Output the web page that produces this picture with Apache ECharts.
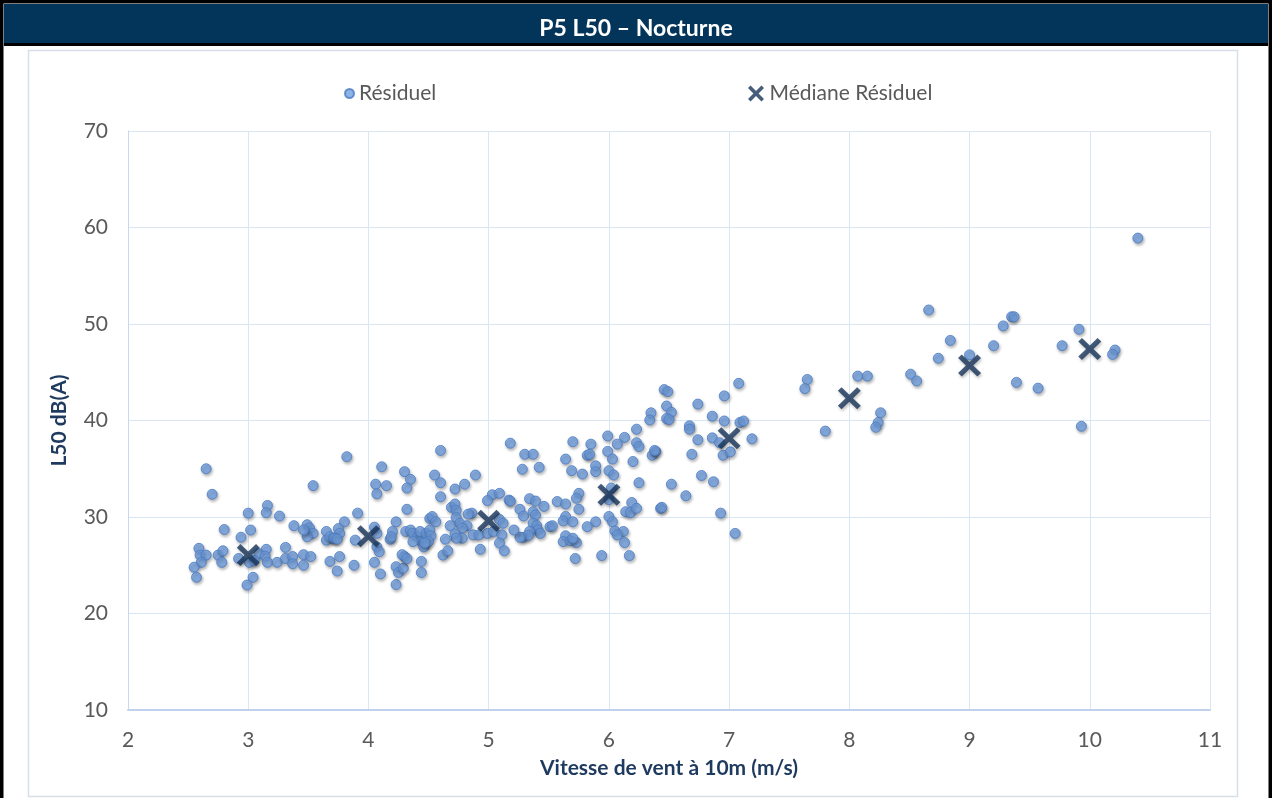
<!DOCTYPE html>
<html>
<head>
<meta charset="utf-8">
<title>P5 L50 – Nocturne</title>
<script src="https://cdn.jsdelivr.net/npm/echarts@6/dist/echarts.min.js"></script>
<style>
  html, body { margin: 0; padding: 0; background: #ffffff; }
  #chart { width: 1272px; height: 798px; }
</style>
</head>
<body>
<div id="chart"></div>
<script>
// Wind speed at 10 m (m/s) for each residual measurement
const residualSpeed = [
  2.65, 2.70, 3.00, 3.16, 3.15, 3.26, 2.80, 3.02, 2.94, 3.38,
  2.59, 2.60, 2.65, 2.75, 2.79, 2.61, 2.78, 2.55, 2.57, 2.92,
  3.01, 3.09, 3.15, 3.14, 3.16, 3.24, 3.31, 3.31, 3.37, 3.37,
  3.04, 2.99, 3.05,
  3.82, 3.54, 4.11, 4.06, 4.07, 4.15, 4.30, 4.35, 4.32, 4.32,
  3.91, 3.80, 4.23, 4.51, 3.49, 3.51, 3.54, 3.49, 3.46, 3.65,
  3.65, 3.68, 3.71, 3.75, 3.76, 3.72, 3.74, 3.89, 4.05, 4.07,
  4.07, 4.09, 4.05, 4.10, 4.23, 4.23, 4.25, 4.29, 4.30, 4.28,
  4.32, 4.18, 4.20, 4.19, 4.31, 4.35, 4.37, 4.41, 4.43, 4.44,
  4.37, 4.47, 4.46, 4.48, 4.44, 4.44, 3.46, 3.52, 3.46, 3.68,
  3.76, 3.74, 3.88,
  4.60, 4.55, 4.60, 4.72, 4.80, 4.89, 4.60, 5.18, 5.30, 5.37,
  5.28, 5.42, 5.03, 5.09, 4.99, 5.17, 5.18, 5.34, 5.39, 5.46,
  5.26, 5.29, 5.37, 5.39, 5.51, 5.37, 5.40, 5.41, 5.43, 5.34,
  5.29, 5.33, 4.69, 4.72, 4.73, 4.86, 4.83, 4.53, 4.56, 4.73,
  4.76, 4.68, 4.82, 4.78, 4.72, 4.78, 4.73, 4.87, 4.92, 4.99,
  5.04, 5.09, 5.12, 5.11, 5.09, 5.13, 4.93, 4.64, 4.62, 4.66,
  4.51, 4.52, 4.50, 4.47, 5.26, 5.21,
  6.35, 6.34, 6.23, 5.99, 6.13, 6.07, 6.23, 6.25, 5.70, 5.85,
  5.82, 5.84, 5.64, 5.99, 6.03, 6.36, 6.39, 6.20, 5.89, 5.89,
  5.69, 5.78, 6.00, 6.04, 6.25, 6.02, 5.75, 5.73, 5.57, 5.64,
  5.75, 6.19, 6.14, 6.18, 6.23, 6.00, 6.03, 5.64, 5.62, 5.70,
  5.89, 5.82, 5.53, 6.05, 6.12, 6.07, 6.13, 5.64, 5.62, 5.68,
  5.73, 5.70, 5.72, 5.94, 6.17, 6.43, 6.00,
  7.08, 6.46, 6.49, 6.96, 6.48, 6.74, 6.52, 6.48, 6.50, 6.86,
  6.96, 7.09, 7.12, 6.67, 6.67, 6.74, 6.86, 6.92, 7.19, 6.95,
  7.01, 6.69, 6.38, 6.77, 6.87, 6.52, 6.64, 6.44, 6.93, 7.05,
  7.65, 7.63, 8.07, 8.15, 8.51, 8.56, 8.26, 8.24, 8.22, 7.80,
  10.40, 8.66, 9.35, 9.37, 9.28, 9.91, 8.84, 9.20, 9.77, 10.21,
  10.19, 8.74, 9.00, 9.39, 9.57, 9.93
];

// Residual L50 level in dB(A), same order as residualSpeed
const residualLevel = [
  35.0, 32.35, 30.4, 31.2, 30.45, 30.1, 28.7, 28.65, 27.9, 29.1,
  26.75, 26.05, 26.05, 26.05, 26.5, 25.3, 25.3, 24.8, 23.75, 25.7,
  25.3, 26.2, 26.65, 25.95, 25.3, 25.3, 26.85, 25.7, 25.9, 25.15,
  23.75, 22.95, 25.5,
  36.25, 33.25, 35.2, 33.4, 32.4, 33.25, 34.7, 33.9, 33.0, 30.8,
  30.4, 29.5, 29.5, 29.85, 29.2, 28.85, 28.3, 27.95, 28.65, 28.5,
  27.6, 27.95, 27.8, 28.8, 28.3, 27.8, 27.7, 27.6, 28.95, 28.3,
  26.9, 26.4, 25.3, 24.1, 23.0, 24.85, 24.25, 24.7, 25.9, 26.1,
  25.7, 27.7, 28.5, 27.95, 28.5, 28.65, 28.3, 27.95, 28.5, 27.45,
  27.45, 27.6, 26.9, 28.3, 25.4, 24.25, 26.1, 25.9, 25.0, 25.4,
  25.9, 24.4, 25.0,
  36.9, 34.35, 33.55, 32.9, 33.4, 34.35, 32.1, 37.65, 36.5, 36.5,
  34.95, 35.15, 32.3, 32.45, 31.7, 31.75, 31.65, 31.9, 31.65, 31.1,
  30.8, 30.1, 30.55, 30.2, 29.0, 29.35, 29.1, 28.65, 28.3, 28.5,
  27.9, 28.1, 31.0, 31.35, 30.7, 30.4, 30.3, 30.05, 29.5, 29.95,
  29.35, 29.1, 29.1, 28.85, 28.25, 27.8, 27.8, 28.15, 28.15, 28.3,
  28.5, 29.75, 29.35, 28.15, 27.3, 26.5, 26.65, 27.7, 26.05, 26.5,
  28.65, 28.05, 27.45, 27.3, 27.9, 28.65,
  40.8, 40.05, 39.1, 38.4, 38.25, 37.55, 37.7, 37.3, 37.8, 37.55,
  36.4, 36.5, 36.0, 36.8, 36.0, 36.4, 36.8, 35.75, 35.3, 34.7,
  34.8, 34.45, 34.8, 34.35, 33.55, 33.0, 32.45, 31.95, 31.6, 31.35,
  30.8, 31.5, 30.55, 30.45, 30.9, 30.05, 29.5, 30.05, 29.6, 29.5,
  29.5, 29.0, 29.1, 28.55, 28.5, 28.15, 27.35, 28.05, 27.45, 27.55,
  27.35, 27.8, 25.7, 26.0, 26.0, 30.9, 31.8,
  43.85, 43.2, 43.0, 42.55, 41.5, 41.7, 40.85, 40.2, 40.1, 40.45,
  39.95, 39.8, 39.95, 39.45, 39.1, 38.0, 38.2, 37.7, 38.1, 36.4,
  36.75, 36.5, 36.9, 34.3, 33.65, 33.4, 32.2, 31.0, 30.4, 28.3,
  44.25, 43.3, 44.6, 44.6, 44.8, 44.1, 40.8, 39.8, 39.3, 38.9,
  58.9, 51.45, 50.75, 50.75, 49.8, 49.45, 48.3, 47.75, 47.75, 47.3,
  46.85, 46.45, 46.8, 43.95, 43.35, 39.4
];

// Median residual level per wind-speed class
const medianSpeed = [3, 4, 5, 6, 7, 8, 9, 10];
const medianLevel = [26.05, 28.0, 29.6, 32.3, 38.15, 42.3, 45.7, 47.4];

// Axis ranges and tick labels
const xTicks = [2, 3, 4, 5, 6, 7, 8, 9, 10, 11];
const yTicks = [10, 20, 30, 40, 50, 60, 70];

const chartTitle = 'P5 L50 – Nocturne';
const residualName = 'Résiduel';
const medianName = 'Médiane Résiduel';
const xAxisName = 'Vitesse de vent à 10m (m/s)';
const yAxisName = 'L50 dB(A)';

const FONT = 'Lato, "Open Sans", sans-serif';
// thick diagonal cross used for the median markers
const crossPath = 'path://M0,1.6 L1.6,0 L5,3.4 L8.4,0 L10,1.6 L6.6,5 L10,8.4 L8.4,10 L5,6.6 L1.6,10 L0,8.4 L3.4,5 Z';

const residualData = residualSpeed.map((s, i) => [s, residualLevel[i]]);
const medianData = medianSpeed.map((s, i) => [s, medianLevel[i]]);

const chart = echarts.init(document.getElementById('chart'), null, { renderer: 'canvas' });

chart.setOption({
  animation: false,
  backgroundColor: '#ffffff',
  graphic: [
    // outer frame
    { type: 'rect', shape: { x: 1.5, y: 1.5, width: 1269, height: 800 },
      style: { fill: null, stroke: '#000000', lineWidth: 4 }, z: 0 },
    // header band
    { type: 'rect', shape: { x: 4, y: 4, width: 1264, height: 40 },
      style: { fill: '#03345a' }, z: 0 },
    { type: 'rect', shape: { x: 4, y: 43, width: 1264, height: 3 },
      style: { fill: '#000000' }, z: 0 },
    // chart panel border
    { type: 'rect', shape: { x: 28.5, y: 50.5, width: 1209, height: 746 },
      style: { fill: null, stroke: '#d9dfe8', lineWidth: 1.5 }, z: 0 }
  ],
  title: {
    text: chartTitle,
    left: 'center',
    top: 12,
    textStyle: { color: '#ffffff', fontFamily: FONT, fontWeight: 'bold', fontSize: 23 }
  },
  legend: [
    {
      data: [residualName],
      left: 339, top: 78,
      itemWidth: 9, itemHeight: 9,
      textStyle: { color: '#595959', fontFamily: FONT, fontSize: 21 }
    },
    {
      data: [medianName],
      left: 743, top: 78,
      itemWidth: 17, itemHeight: 16,
      itemGap: 4,
      textStyle: { color: '#595959', fontFamily: FONT, fontSize: 21 }
    }
  ],
  grid: { left: 128, right: 62, top: 131, bottom: 88, containLabel: false },
  xAxis: {
    type: 'value',
    min: xTicks[0], max: xTicks[xTicks.length - 1], interval: 1,
    name: xAxisName,
    nameLocation: 'middle',
    nameGap: 48,
    nameTextStyle: { color: '#1f3a5f', fontFamily: FONT, fontWeight: 'bold', fontSize: 21 },
    axisLine: { lineStyle: { color: '#bfd1ec', width: 2 } },
    axisTick: { show: false },
    axisLabel: { color: '#595959', fontFamily: FONT, fontSize: 21, margin: 20 },
    splitLine: { show: true, lineStyle: { color: '#dbe6f5', width: 1 } }
  },
  yAxis: {
    type: 'value',
    min: yTicks[0], max: yTicks[yTicks.length - 1], interval: 10,
    name: yAxisName,
    nameLocation: 'middle',
    nameRotate: 90,
    nameGap: 58,
    nameTextStyle: { color: '#1f3a5f', fontFamily: FONT, fontWeight: 'bold', fontSize: 21 },
    axisLine: { show: true, lineStyle: { color: '#c7d7ef', width: 1 } },
    axisTick: { show: false },
    axisLabel: { color: '#595959', fontFamily: FONT, fontSize: 21, margin: 20 },
    splitLine: { show: true, lineStyle: { color: '#dbe6f5', width: 1 } }
  },
  series: [
    {
      name: residualName,
      type: 'scatter',
      data: residualData,
      symbol: 'circle',
      symbolSize: 10,
      itemStyle: {
        color: '#72a0e0',
        borderColor: '#4a7cc4',
        borderWidth: 1,
        shadowBlur: 3,
        shadowColor: 'rgba(0,0,0,0.35)',
        shadowOffsetX: 1,
        shadowOffsetY: 2
      },
      z: 2
    },
    {
      name: medianName,
      type: 'scatter',
      data: medianData,
      symbol: crossPath,
      symbolSize: [23, 22],
      itemStyle: {
        color: '#17345a',
        shadowBlur: 3,
        shadowColor: 'rgba(0,0,0,0.3)',
        shadowOffsetX: 1,
        shadowOffsetY: 2
      },
      z: 3
    }
  ]
});
</script>
</body>
</html>
